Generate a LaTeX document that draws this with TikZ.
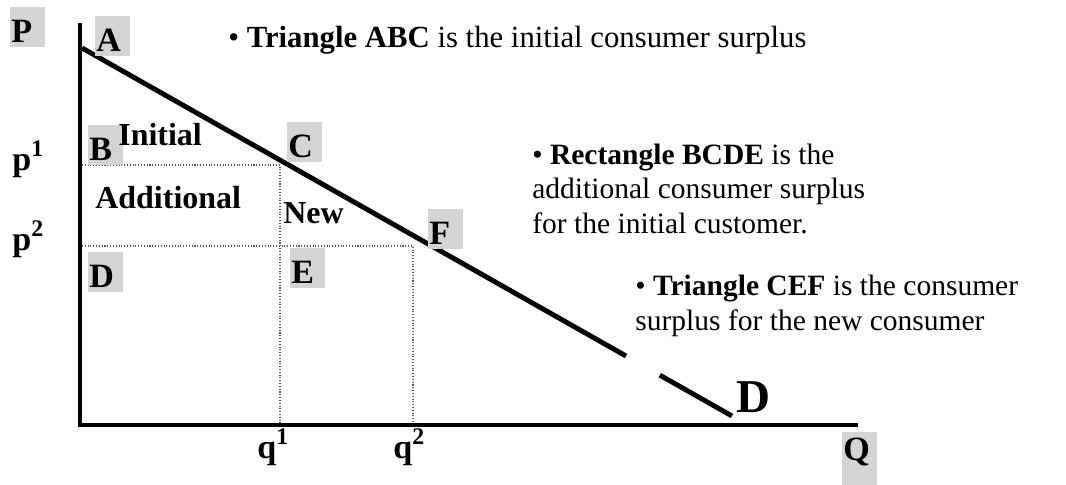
\documentclass[tikz,border=0pt]{standalone}
\usepackage{fontspec}
\setmainfont{Liberation Serif}
\usetikzlibrary{calc}

\tikzset{
 ptbox/.style={fill=black!17, anchor=north west, inner xsep=0.02cm, inner ysep=0pt,
   text height=0.7cm, text depth=0.1cm, font=\fontsize{19.4}{20}\selectfont\bfseries},
 axlbl/.style={anchor=base west, inner sep=0pt, font=\fontsize{19.4}{20}\selectfont\bfseries},
 arealbl/.style={anchor=base west, inner sep=0pt, font=\fontsize{18.2}{20}\selectfont\bfseries},
 note/.style={anchor=base west, inner sep=0pt, align=left, font=\fontsize{16.8}{19.4}\selectfont},
 axis/.style={line width=2.8pt},
 guide/.style={densely dotted, line width=0.6pt, black!65}
}
\newcommand{\boxletter}[1]{\makebox[0.66cm][l]{#1}}

\begin{document}
\begin{tikzpicture}[x=0.02cm,y=-0.02cm]
 \useasboundingbox (0,0) rectangle (1066,484);
 % axes
 \coordinate (O) at (80,425); \coordinate (Ptop) at (80,23); \coordinate (Qend) at (858,425);
 \draw[axis] (Ptop) -- (O) -- (Qend);
 % demand curve, with a break near its end
 \coordinate (dtop) at (82,48); \coordinate (dend) at (732,416);
 \draw[axis] (dtop) -- ($(dtop)!0.837!(dend)$);
 \draw[axis] ($(dtop)!0.889!(dend)$) -- (dend);
 % price and quantity guides
 \coordinate (p1) at (82,165); \coordinate (c) at (280,165); \coordinate (q1) at (280,423);
 \coordinate (p2) at (82,246); \coordinate (f) at (413,246); \coordinate (q2) at (413,423);
 \draw[guide] (p1) -- (c) -- (q1);
 \draw[guide] (p2) -- (f) -- (q2);
 % point labels
 \node[ptbox] (lblP) at (10,7) {\boxletter{P}};
 \node[ptbox] (lblA) at (95,16) {\boxletter{A}};
 \node[ptbox] (lblB) at (88,125) {\boxletter{B}};
 \node[ptbox] (lblC) at (287,122) {\boxletter{C}};
 \node[ptbox] (lblD) at (88,252) {\boxletter{D}};
 \node[ptbox] (lblE) at (290,248) {\boxletter{E}};
 \node[ptbox] (lblF) at (428,209) {\boxletter{F}};
 \node[ptbox, text height=0.56cm, text depth=0.5cm] (lblQ) at (842,432) {\boxletter{Q}};
 \node[axlbl] (lblp1) at (12,170) {p\textsuperscript{1}};
 \node[axlbl] (lblp2) at (12,250) {p\textsuperscript{2}};
 \node[axlbl] (lblq1) at (257,458) {q\textsuperscript{1}};
 \node[axlbl] (lblq2) at (393,458) {q\textsuperscript{2}};
 \node[anchor=base west, inner sep=0pt, font=\fontsize{26.8}{28}\selectfont\bfseries] (lbldem) at (736,412) {D};
 % areas
 \node[arealbl] (initial) at (118,145) {Initial};
 \node[arealbl] (additional) at (95,208) {Additional};
 \node[arealbl] (new) at (283,223) {New};
 % notes (base is the last line)
 \node[note, font=\fontsize{17.5}{20}\selectfont] (noteABC) at (228,47) {• \textbf{Triangle ABC} is the initial consumer surplus};
 \node[note] (noteBCDE) at (532,233) {• \textbf{Rectangle BCDE} is the\\additional consumer surplus\\for the initial customer.};
 \node[note] (noteCEF) at (635,330) {• \textbf{Triangle CEF} is the consumer\\surplus for the new consumer};
\end{tikzpicture}
\end{document}
